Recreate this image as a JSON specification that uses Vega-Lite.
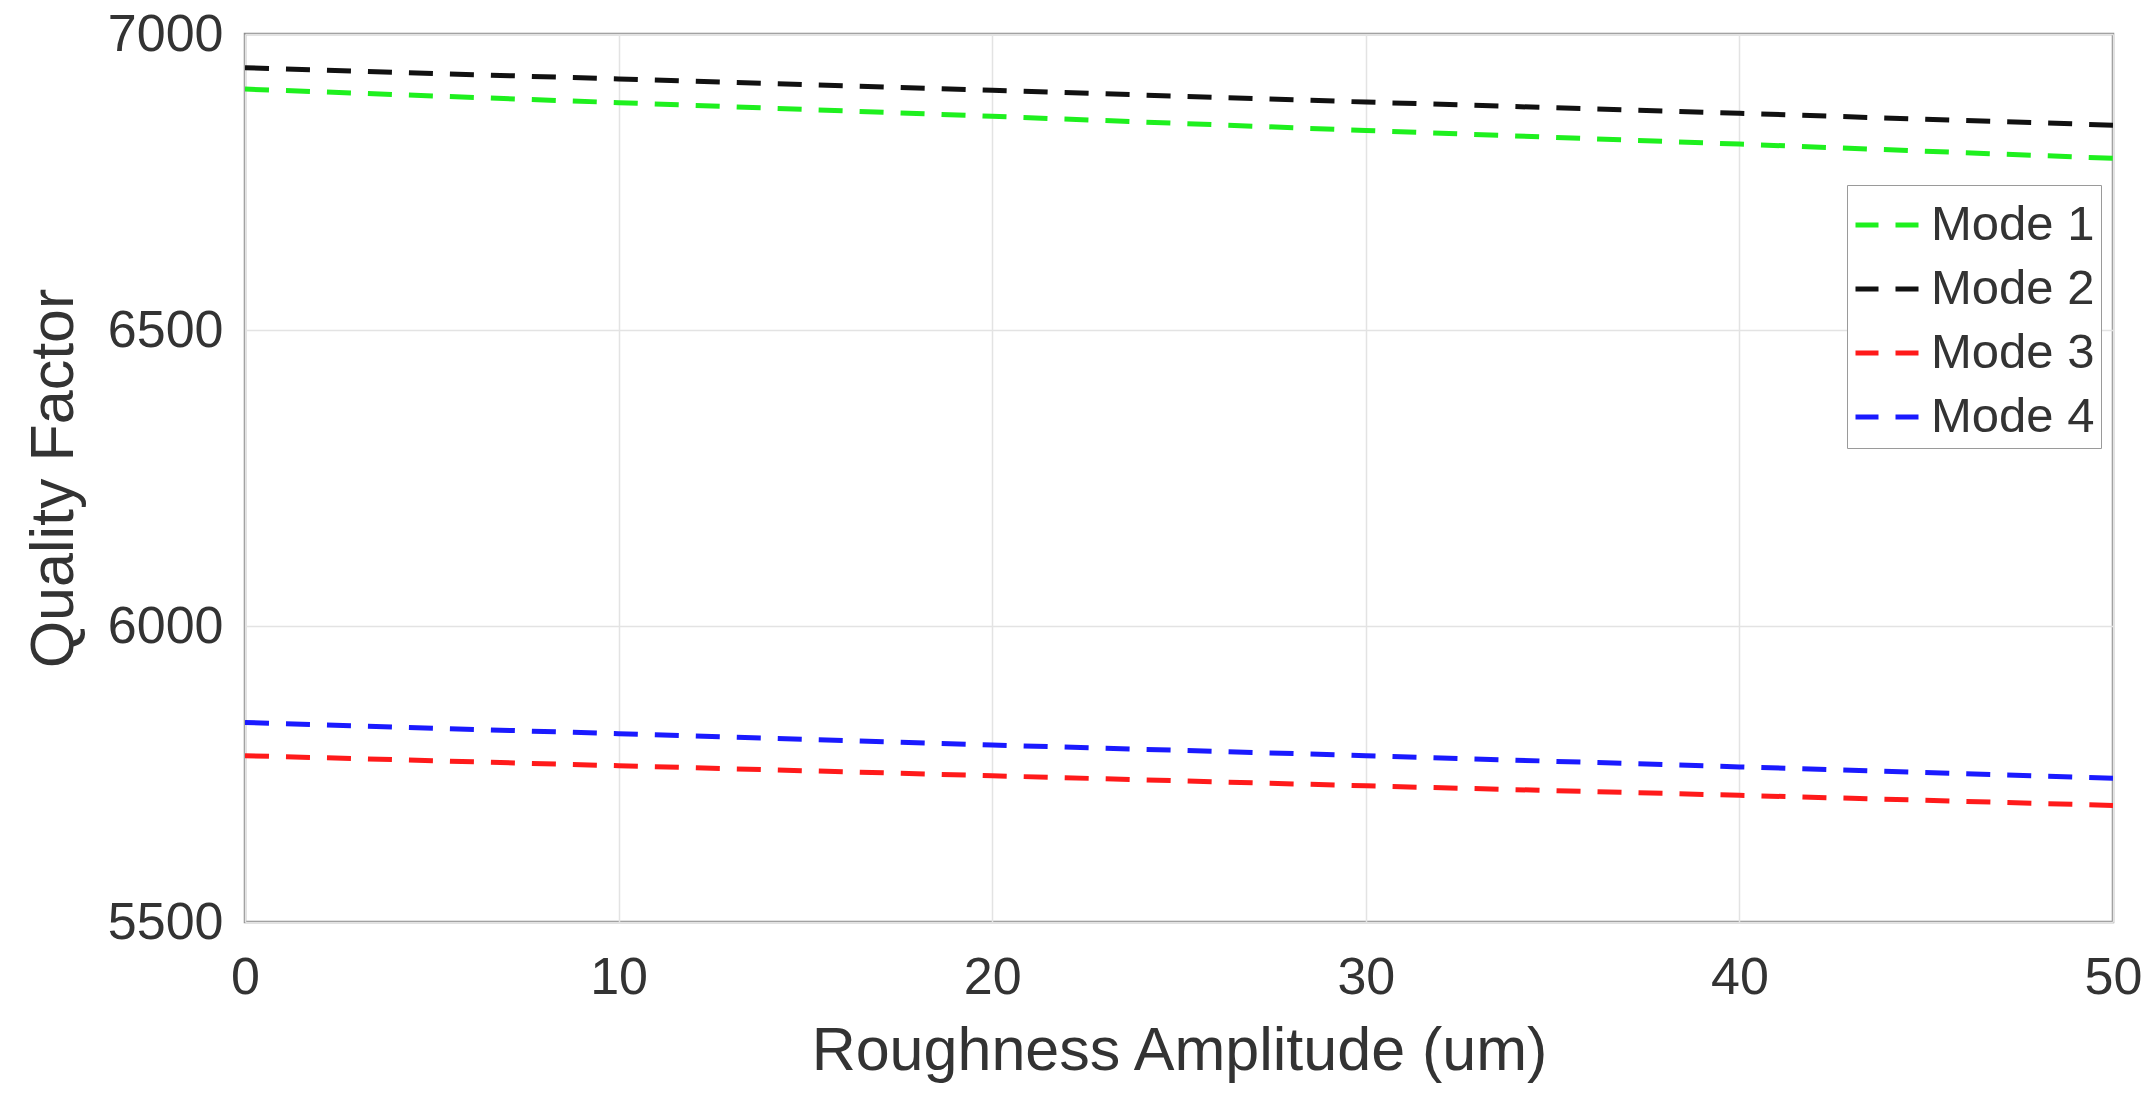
{
  "$schema": "https://vega.github.io/schema/vega-lite/v6.json",
  "width": 1868,
  "height": 888,
  "autosize": {"type": "none"},
  "padding": {"left": 245, "top": 34, "right": 34, "bottom": 172},
  "background": "white",
  "config": {
    "font": "Liberation Sans",
    "view": {"stroke": "#8c8c8c", "strokeWidth": 2.5},
    "axis": {
      "labelFont": "Liberation Sans",
      "titleFont": "Liberation Sans",
      "labelColor": "#333333",
      "titleColor": "#333333",
      "labelFontSize": 52,
      "titleFontSize": 61,
      "titleFontWeight": "normal",
      "grid": true,
      "gridColor": "#e3e3e3",
      "gridWidth": 1.5,
      "domain": false,
      "ticks": false,
      "format": "d"
    }
  },
  "data": {
    "values": [
      {"x": 0, "q": 6907, "mode": "Mode 1"},
      {"x": 10, "q": 6884, "mode": "Mode 1"},
      {"x": 20, "q": 6861, "mode": "Mode 1"},
      {"x": 30, "q": 6837, "mode": "Mode 1"},
      {"x": 40, "q": 6814, "mode": "Mode 1"},
      {"x": 50, "q": 6790, "mode": "Mode 1"},
      {"x": 0, "q": 6943, "mode": "Mode 2"},
      {"x": 10, "q": 6924, "mode": "Mode 2"},
      {"x": 20, "q": 6905, "mode": "Mode 2"},
      {"x": 30, "q": 6885, "mode": "Mode 2"},
      {"x": 40, "q": 6866, "mode": "Mode 2"},
      {"x": 50, "q": 6846, "mode": "Mode 2"},
      {"x": 0, "q": 5781, "mode": "Mode 3"},
      {"x": 10, "q": 5764, "mode": "Mode 3"},
      {"x": 20, "q": 5747, "mode": "Mode 3"},
      {"x": 30, "q": 5730, "mode": "Mode 3"},
      {"x": 40, "q": 5714, "mode": "Mode 3"},
      {"x": 50, "q": 5697, "mode": "Mode 3"},
      {"x": 0, "q": 5837, "mode": "Mode 4"},
      {"x": 10, "q": 5818, "mode": "Mode 4"},
      {"x": 20, "q": 5799, "mode": "Mode 4"},
      {"x": 30, "q": 5781, "mode": "Mode 4"},
      {"x": 40, "q": 5762, "mode": "Mode 4"},
      {"x": 50, "q": 5743, "mode": "Mode 4"}
    ]
  },
  "mark": {"type": "line", "strokeWidth": 5, "strokeDash": [24, 17], "clip": true},
  "encoding": {
    "x": {
      "field": "x",
      "type": "quantitative",
      "scale": {"domain": [0, 50], "nice": false},
      "axis": {"title": "Roughness Amplitude (um)", "values": [0, 10, 20, 30, 40, 50], "labelPadding": 30, "titlePadding": 18, "labelFlush": false}
    },
    "y": {
      "field": "q",
      "type": "quantitative",
      "scale": {"domain": [5500, 7000], "nice": false, "zero": false},
      "axis": {"title": "Quality Factor", "values": [5500, 6000, 6500, 7000], "labelPadding": 22, "titlePadding": 22, "labelFlush": false}
    },
    "color": {
      "field": "mode",
      "type": "nominal",
      "scale": {"domain": ["Mode 1", "Mode 2", "Mode 3", "Mode 4"], "range": ["#1ef01e", "#111111", "#ff1a1a", "#1a1aff"]},
      "legend": {
        "title": null,
        "orient": "none",
        "legendX": 1602,
        "legendY": 151,
        "direction": "vertical",
        "fillColor": "white",
        "strokeColor": "#9a9a9a",
        "padding": 6,
        "symbolType": "stroke",
        "symbolSize": 3969,
        "symbolStrokeWidth": 5,
        "symbolDash": [23, 17],
        "labelFont": "Liberation Sans",
        "labelFontSize": 49,
        "labelColor": "#333333",
        "labelOffset": 10,
        "labelLimit": 0,
        "rowPadding": 5
      }
    }
  }
}
